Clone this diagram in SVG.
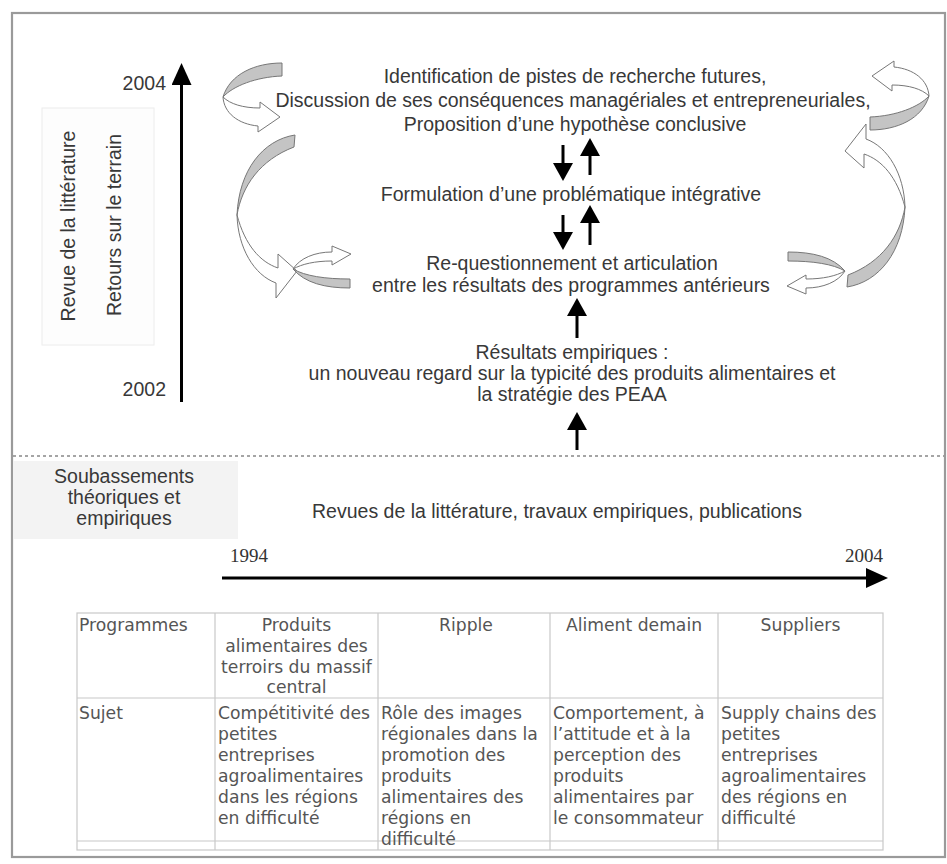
<svg xmlns="http://www.w3.org/2000/svg" width="947" height="864" viewBox="0 0 947 864">
<defs>
<style>
.t{font-family:"Liberation Sans",Arial,sans-serif;font-size:19.5px;fill:#383838}
.c{text-anchor:middle}
.e{text-anchor:end}
.yr{font-family:"Liberation Serif","Times New Roman",serif;font-size:19px;fill:#333}
.tb{font-family:"DejaVu Sans",Verdana,sans-serif;font-size:17.2px;fill:#555}
.grid{stroke:#c8c8c8;stroke-width:1.2;fill:none}
.ar{stroke:#000;stroke-width:3;fill:none}
.band{fill:#c4c4c4;stroke:#777;stroke-width:1;stroke-linejoin:round}
.wb{fill:#fff;stroke:#777;stroke-width:1;stroke-linejoin:round}
</style>
<marker id="ah" markerUnits="userSpaceOnUse" viewBox="0 0 18 20" refX="6" refY="10" markerWidth="18" markerHeight="20" orient="auto"><path d="M0,0L18,10L0,20Z" fill="#000"/></marker>
<marker id="ahL" markerUnits="userSpaceOnUse" viewBox="0 0 22 20" refX="6" refY="10" markerWidth="22" markerHeight="20" orient="auto"><path d="M0,0L22,10L0,20Z" fill="#000"/></marker>
<g id="curl">
<path class="band" d="M282,63 C255,63 230,74 223,97 C233,86 256,77 282,76 Z"/>
<path class="wb" d="M223,97 C224,113 238,124 258,126 L258,132 L280,117 L260,102 L260,108 C243,108 230,104 223,97 Z"/>
</g>
<g id="arc">
<path class="band" d="M295,135 C263,140 239,170 237,215 C242,186 260,160 294,147 Z"/>
<path class="wb" d="M237,215 C238,248 254,275 276,283 L276,298 L297,271 L278,254 L278,268 C260,262 245,245 237,215 Z"/>
</g>
<g id="ess">
<path class="band" d="M293,269 C305,276 325,279 350,279 L350,288 C325,288 305,283 293,269 Z"/>
<path class="wb" d="M293,269 C300,258 315,252 332,252 L332,246 L351,254 L332,265 L332,261 C315,261 302,264 293,269 Z"/>
</g>
</defs>

<rect x="0" y="0" width="947" height="864" fill="#fff"/>
<rect id="frame" x="12" y="13" width="933" height="844" fill="#fff" stroke="#9a9a9a" stroke-width="2.2"/>
<line x1="13" y1="456" x2="944" y2="456" stroke="#888" stroke-width="1.5" stroke-dasharray="3,3"/>

<g id="node-axis-labels">
<rect x="42" y="108" width="112" height="237" fill="#fdfdfd" stroke="#ececec" stroke-width="1"/>
<text class="t c" transform="translate(75,226) rotate(-90)">Revue de la littérature</text>
<text class="t c" transform="translate(121,225) rotate(-90)">Retours sur le terrain</text>
<text class="t e" x="166" y="90">2004</text>
<text class="t e" x="166" y="396">2002</text>
</g>

<g id="node-conclusion">
<text class="t c" x="575" y="83">Identification de pistes de recherche futures,</text>
<text class="t c" x="573" y="107">Discussion de ses conséquences managériales et entrepreneuriales,</text>
<text class="t c" x="575" y="131">Proposition d’une hypothèse conclusive</text>
</g>
<g id="node-formulation">
<text class="t c" x="571" y="201">Formulation d’une problématique intégrative</text>
</g>
<g id="node-requestionnement">
<text class="t c" x="572" y="270">Re-questionnement et articulation</text>
<text class="t c" x="571" y="292">entre les résultats des programmes antérieurs</text>
</g>
<g id="node-resultats">
<text class="t c" x="572" y="359">Résultats empiriques :</text>
<text class="t c" x="572" y="380">un nouveau regard sur la typicité des produits alimentaires et</text>
<text class="t c" x="572" y="401">la stratégie des PEAA</text>
</g>

<g id="node-soubassements">
<rect x="13" y="461" width="225" height="78" fill="#f3f3f3"/>
<text class="t c" x="124" y="483">Soubassements</text>
<text class="t c" x="124" y="504">théoriques et</text>
<text class="t c" x="124" y="525">empiriques</text>
</g>
<g id="node-revues">
<text class="t c" x="557" y="518">Revues de la littérature, travaux empiriques, publications</text>
</g>
<g id="node-timeline">
<text class="yr" x="230" y="562">1994</text>
<text class="yr e" x="883" y="562">2004</text>
</g>

<g id="node-table">
<rect class="grid" x="77" y="613" width="806" height="237"/>
<line class="grid" x1="77" y1="698" x2="883" y2="698"/>
<line class="grid" x1="77" y1="841" x2="883" y2="841"/>
<line class="grid" x1="215" y1="613" x2="215" y2="850"/>
<line class="grid" x1="378" y1="613" x2="378" y2="850"/>
<line class="grid" x1="550" y1="613" x2="550" y2="850"/>
<line class="grid" x1="718" y1="613" x2="718" y2="850"/>
<text class="tb" x="79" y="631">Programmes</text>
<text class="tb c" x="296.5" y="631">Produits</text>
<text class="tb c" x="296.5" y="652">alimentaires des</text>
<text class="tb c" x="296.5" y="673">terroirs du massif</text>
<text class="tb c" x="296.5" y="693">central</text>
<text class="tb c" x="466" y="631">Ripple</text>
<text class="tb c" x="634" y="631">Aliment demain</text>
<text class="tb c" x="800.5" y="631">Suppliers</text>
<text class="tb" x="79" y="719">Sujet</text>
<text class="tb" x="218" y="719">Compétitivité des</text>
<text class="tb" x="218" y="740">petites</text>
<text class="tb" x="218" y="761">entreprises</text>
<text class="tb" x="218" y="782">agroalimentaires</text>
<text class="tb" x="218" y="803">dans les régions</text>
<text class="tb" x="218" y="824">en difficulté</text>
<text class="tb" x="381" y="719">Rôle des images</text>
<text class="tb" x="381" y="740">régionales dans la</text>
<text class="tb" x="381" y="761">promotion des</text>
<text class="tb" x="381" y="782">produits</text>
<text class="tb" x="381" y="803">alimentaires des</text>
<text class="tb" x="381" y="824">régions en</text>
<text class="tb" x="381" y="845">difficulté</text>
<text class="tb" x="553" y="719">Comportement, à</text>
<text class="tb" x="553" y="740">l’attitude et à la</text>
<text class="tb" x="553" y="761">perception des</text>
<text class="tb" x="553" y="782">produits</text>
<text class="tb" x="553" y="803">alimentaires par</text>
<text class="tb" x="553" y="824">le consommateur</text>
<text class="tb" x="721" y="719">Supply chains des</text>
<text class="tb" x="721" y="740">petites</text>
<text class="tb" x="721" y="761">entreprises</text>
<text class="tb" x="721" y="782">agroalimentaires</text>
<text class="tb" x="721" y="803">des régions en</text>
<text class="tb" x="721" y="824">difficulté</text>
</g>

<g id="connectors">
<line class="ar" x1="181.5" y1="402" x2="181.5" y2="79" marker-end="url(#ahL)"/>
<line class="ar" x1="222" y1="578" x2="872" y2="578" stroke-width="3.5" marker-end="url(#ahL)"/>
<line class="ar" x1="563" y1="145" x2="563" y2="169" marker-end="url(#ah)"/>
<line class="ar" x1="590" y1="175" x2="590" y2="150" marker-end="url(#ah)"/>
<line class="ar" x1="563" y1="215" x2="563" y2="238" marker-end="url(#ah)"/>
<line class="ar" x1="590" y1="245" x2="590" y2="217" marker-end="url(#ah)"/>
<line class="ar" x1="577" y1="338" x2="577" y2="310" marker-end="url(#ah)"/>
<line class="ar" x1="577" y1="450" x2="577" y2="424" marker-end="url(#ah)"/>
<use href="#curl"/>
<use href="#arc"/>
<use href="#ess"/>
<use href="#curl" transform="rotate(180 576 96.5)"/>
<use href="#arc" transform="rotate(180 571 211)"/>
<use href="#ess" transform="rotate(180 569 270)"/>
</g>
</svg>
